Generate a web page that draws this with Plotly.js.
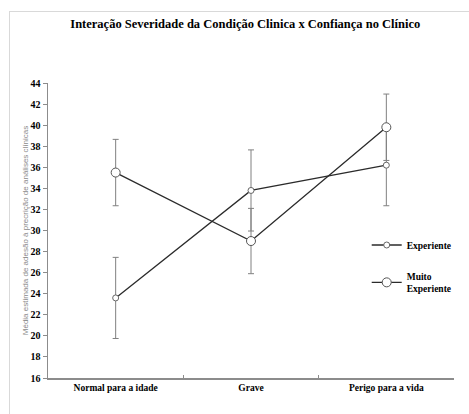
<!DOCTYPE html>
<html><head><meta charset="utf-8">
<script src="https://cdn.plot.ly/plotly-3.0.1.min.js"></script>
<style>
html,body{margin:0;padding:0;background:#fff;}
#wrap{position:relative;width:469px;height:414px;overflow:hidden;}
#frame{position:absolute;left:9px;top:11px;width:500px;height:450px;border-left:1px solid #d9d9d9;border-top:1px solid #d9d9d9;pointer-events:none;}
#chart{position:absolute;left:0;top:0;width:469px;height:414px;}
</style></head>
<body><div id="wrap"><div id="chart"></div><div id="frame"></div></div>
<script>
const categories = ["Normal para a idade", "Grave", "Perigo para a vida"];
const seriesNames = ["Experiente", "Muito<br>Experiente"];
const experiente = [23.6, 33.8, 36.2];
const experienteErr = [3.85, 3.85, 3.85];
const muitoExperiente = [35.5, 29.0, 39.8];
const muitoExperienteErr = [3.15, 3.1, 3.15];
const yTicks = [16,18,20,22,24,26,28,30,32,34,36,38,40,42,44];

const serif = "Liberation Serif, Times New Roman, serif";
const traces = [
  {x: categories, y: experiente, name: seriesNames[0], type: 'scatter', mode: 'lines+markers',
   legendgroup: 'a',
   line: {color: '#2b2b2b', width: 1.3},
   marker: {symbol: 'circle', size: 6, color: '#ffffff', line: {color: '#666666', width: 1}},
   error_y: {type: 'data', array: experienteErr, visible: true, color: '#808080', thickness: 1, width: 3}},
  {x: categories, y: muitoExperiente, name: seriesNames[1], type: 'scatter', mode: 'lines+markers',
   legendgroup: 'b',
   line: {color: '#2b2b2b', width: 1.3},
   marker: {symbol: 'circle', size: 9, color: '#ffffff', line: {color: '#555555', width: 1}},
   error_y: {type: 'data', array: muitoExperienteErr, visible: true, color: '#808080', thickness: 1, width: 3}}
];

const layout = {
  width: 469, height: 414,
  margin: {l: 48, r: 12, t: 83, b: 36},
  paper_bgcolor: 'rgba(0,0,0,0)', plot_bgcolor: 'rgba(0,0,0,0)',
  font: {family: serif, color: '#000'},
  title: {text: '<b>Interação Severidade da Condição Clinica x Confiança no Clínico</b>',
    font: {family: serif, size: 12.5, color: '#000'}, x: 0.523, xanchor: 'center', y: 0.943, yanchor: 'middle'},
  showlegend: true,
  legend: {x: 0.785, xanchor: 'left', y: 0.5, yanchor: 'top', bgcolor: 'rgba(0,0,0,0)',
    font: {family: serif, size: 9.5, color: '#000', weight: 'bold'},
    tracegroupgap: 14, itemwidth: 30, traceorder: 'grouped'},
  xaxis: {type: 'category', range: [-0.5, 2.5], showgrid: false, zeroline: false,
    showline: true, linecolor: '#8c8c8c', linewidth: 1.5,
    ticks: 'inside', tickson: 'boundaries', ticklen: 3, tickcolor: '#8c8c8c',
    tickfont: {family: serif, size: 9.5, color: '#000', weight: 'bold'}},
  yaxis: {range: [16, 44], tickvals: yTicks, showgrid: false, zeroline: false,
    showline: true, linecolor: '#8c8c8c', linewidth: 1.5,
    ticks: 'outside', ticklen: 4, tickcolor: '#8c8c8c',
    tickfont: {family: serif, size: 10, color: '#000', weight: 'bold'},
    title: {text: 'Média estimada de adesão à precrição de análises clínicas',
      font: {family: 'Liberation Sans, Arial, sans-serif', size: 8, color: '#8a8a8a'}, standoff: 0}}
};
Plotly.newPlot('chart', traces, layout, {displayModeBar: false, staticPlot: true});
</script></body></html>
